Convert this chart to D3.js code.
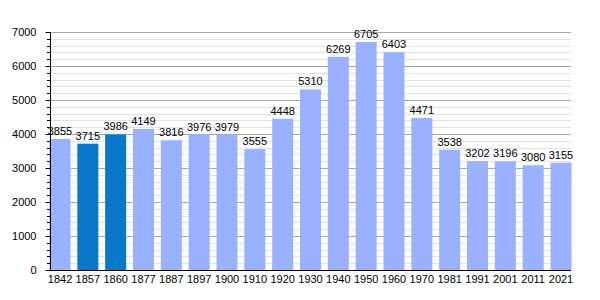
<!DOCTYPE html>
<html>
<head>
<meta charset="utf-8">
<script src="https://cdn.jsdelivr.net/npm/d3@7"></script>
<style>
  body { margin: 0; background: #fff; }
  svg text { font-family: "Liberation Sans", Arial, sans-serif; font-size: 11px; fill: #000; }
</style>
</head>
<body>
<script>
const years = ["1842", "1857", "1860", "1877", "1887", "1897", "1900", "1910", "1920", "1930",
  "1940", "1950", "1960", "1970", "1981", "1991", "2001", "2011", "2021"];
const population = [3855, 3715, 3986, 4149, 3816, 3976, 3979, 3555, 4448, 5310,
  6269, 6705, 6403, 4471, 3538, 3202, 3196, 3080, 3155];
const highlighted = ["1857", "1860"];
const yTicks = [0, 1000, 2000, 3000, 4000, 5000, 6000, 7000];

const width = 600, height = 300;
const margin = {left: 50, right: 29, top: 32, bottom: 30};

const svg = d3.select("body").append("svg")
  .attr("width", width)
  .attr("height", height);

const xScale = d3.scaleBand()
  .domain(years)
  .range([49.5, width - margin.right + 0.5])
  .paddingInner(0.245)
  .paddingOuter(0);

const yScale = d3.scaleLinear()
  .domain([0, 7000])
  .range([height - margin.bottom, margin.top]);

// minor grid every 200
const minor = d3.range(200, 7001, 200).filter(v => v % 1000 != 0);
svg.append("g")
  .selectAll("line")
  .data(minor)
  .enter()
  .append("line")
  .attr("x1", margin.left)
  .attr("x2", width - margin.right)
  .attr("y1", d => Math.round(yScale(d)) + 0.5)
  .attr("y2", d => Math.round(yScale(d)) + 0.5)
  .style("stroke", "#e2e2e2");

svg.append("g")
  .selectAll("line")
  .data(yTicks.slice(1))
  .enter()
  .append("line")
  .attr("x1", margin.left)
  .attr("x2", width - margin.right)
  .attr("y1", d => Math.round(yScale(d)) + 0.5)
  .attr("y2", d => Math.round(yScale(d)) + 0.5)
  .style("stroke", "#a8a8a8");

svg.selectAll("rect.bar")
  .data(years)
  .enter()
  .append("rect")
  .attr("class", "bar")
  .attr("x", d => xScale(d))
  .attr("width", xScale.bandwidth())
  .attr("y", (d, i) => yScale(population[i]))
  .attr("height", (d, i) => yScale(0) - yScale(population[i]))
  .style("fill", d => highlighted.includes(d) ? "#0a78c9" : "#99b1ff");

svg.selectAll("text.val")
  .data(years)
  .enter()
  .append("text")
  .attr("class", "val")
  .attr("x", d => xScale(d) + xScale.bandwidth() / 2)
  .attr("y", (d, i) => yScale(population[i]) - 4)
  .style("text-anchor", "middle")
  .text((d, i) => population[i]);

// y axis with minor ticks
const yAxis = d3.axisLeft(yScale).tickValues(yTicks).tickFormat(d3.format("d")).tickSize(5).tickPadding(9);
svg.append("g")
  .attr("transform", "translate(" + (margin.left + 0.5) + ",0)")
  .call(yAxis)
  .call(g => g.select(".domain").remove());

svg.append("g")
  .selectAll("line")
  .data(minor)
  .enter()
  .append("line")
  .attr("x1", margin.left - 3)
  .attr("x2", margin.left)
  .attr("y1", d => Math.round(yScale(d)) + 0.5)
  .attr("y2", d => Math.round(yScale(d)) + 0.5)
  .style("stroke", "#000");

svg.append("line")
  .attr("x1", margin.left + 0.5)
  .attr("x2", margin.left + 0.5)
  .attr("y1", margin.top)
  .attr("y2", height - margin.bottom)
  .style("stroke", "#000");

const xAxis = d3.axisBottom(xScale).tickSize(0).tickPadding(5);
svg.append("g")
  .attr("transform", "translate(0," + (height - margin.bottom + 0.5) + ")")
  .call(xAxis)
  .call(g => g.select(".domain").attr("d", "M" + margin.left + ",0H" + (width - margin.right)));

svg.selectAll(".tick text").style("font-size", "11px").style("font-family", "Liberation Sans, Arial, sans-serif");
</script>
</body>
</html>
